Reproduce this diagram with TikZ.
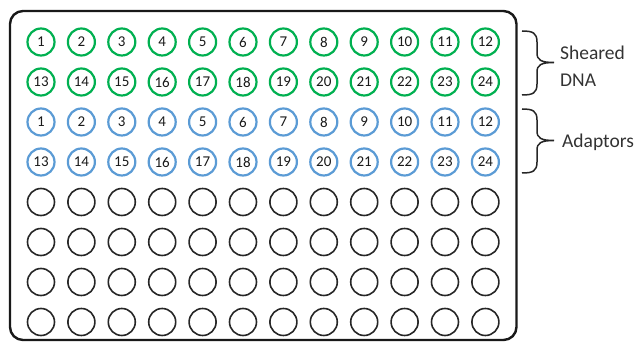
\documentclass[tikz,border=0pt]{standalone}
\usepackage{fontspec}
\setmainfont{Carlito}
\definecolor{dnagreen}{HTML}{00B050}
\definecolor{adblue}{HTML}{5B9BD5}
\begin{document}
\begin{tikzpicture}[x=1pt,y=-1pt,
  well/.style={circle,draw=black!85,minimum size=27pt,inner sep=0pt,line width=1.6pt,
    font=\fontsize{15}{15}\selectfont,text=black!90},
  dnawell/.style={well,draw=dnagreen,line width=2.2pt},
  adwell/.style={well,draw=adblue,line width=2.2pt},
  plate/.style={draw=black!90,line width=2.4pt,rounded corners=13pt},
  bracket/.style={draw=black!85,line width=1.5pt},
  lbl/.style={anchor=west,align=left,inner sep=0pt,font=\fontsize{19.5}{27}\selectfont,text=black!80}]
\useasboundingbox (0,0) rectangle (643,344);
\draw[plate] (10,11) rectangle (516.5,340);
% wells
\foreach \c in {0,...,11}{
  \pgfmathsetmacro{\xx}{41+40.4*\c}
  \pgfmathtruncatemacro{\na}{\c+1}
  \pgfmathtruncatemacro{\nb}{\c+13}
  \node[dnawell] (g1-\na) at (\xx,42) {\na};
  \node[dnawell] (g2-\na) at (\xx,82) {\nb};
  \node[adwell] (b1-\na) at (\xx,122) {\na};
  \node[adwell] (b2-\na) at (\xx,162) {\nb};
  \foreach \r in {4,...,7}{
    \node[well] (e\r-\na) at (\xx,42+40*\r) {};
  }
}
% braces
\draw[bracket] (522,31) .. controls (533,31) and (537,33) .. (537,42) -- (537,53)
  .. controls (537,60) and (541,62.5) .. (554,62.5)
  .. controls (541,62.5) and (537,65) .. (537,72) -- (537,84)
  .. controls (537,93) and (533,95) .. (522,95);
\draw[bracket] (522,109) .. controls (533,109) and (537,111) .. (537,120) -- (537,131)
  .. controls (537,138) and (541,140.5) .. (554,140.5)
  .. controls (541,140.5) and (537,143) .. (537,150) -- (537,162)
  .. controls (537,171) and (533,173) .. (522,173);
\node[lbl] (sheared) at (560,66) {Sheared\\DNA};
\node[lbl] (adaptors) at (562,142) {Adaptors};
\end{tikzpicture}
\end{document}
